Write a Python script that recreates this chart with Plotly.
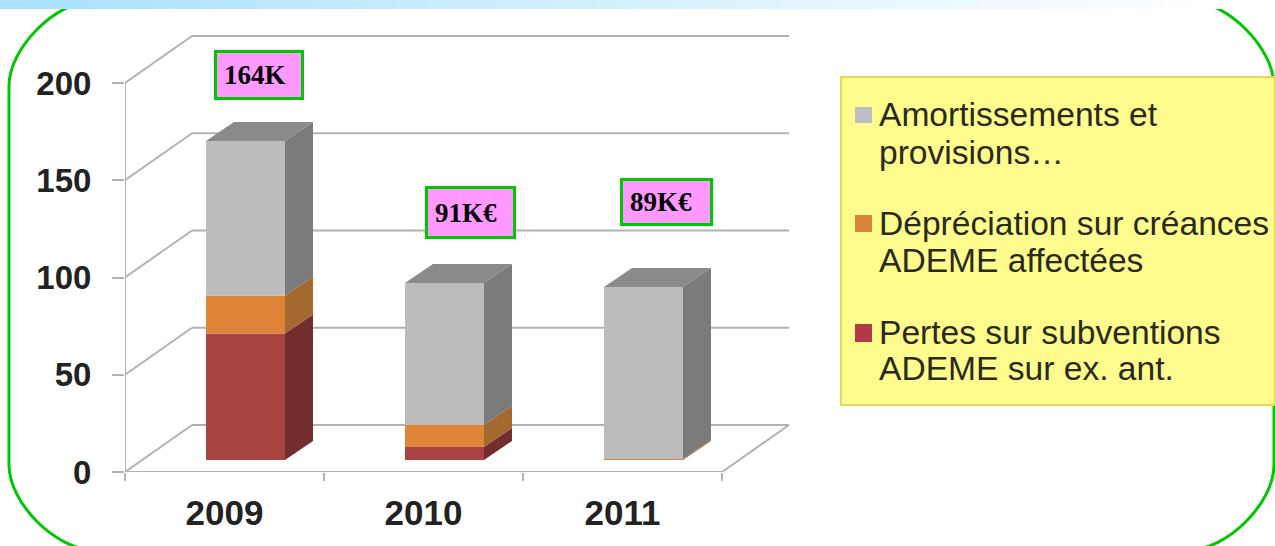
import plotly.graph_objects as go

# ---- data -------------------------------------------------------------
years = ["2009", "2010", "2011"]
pertes = [65, 6.7, 0]
depreciation = [19.5, 11.3, 0.5]
amortissements = [79.5, 73, 88.5]
y_ticks = [0, 50, 100, 150, 200]
legend_lines = [
    ["Amortissements et", "provisions…"],
    ["Dépréciation sur créances", "ADEME affectées"],
    ["Pertes sur subventions", "ADEME sur ex. ant."],
]
series_names = ["Amortissements et provisions…",
                "Dépréciation sur créances ADEME affectées",
                "Pertes sur subventions ADEME sur ex. ant."]
callouts = ["164K", "91K€", "89K€"]

# ---- geometry / style -------------------------------------------------
W, H = 1275, 546
PX_X, PX_Y = 199.0, 1.945            # pixels per category / per value unit
cats = list(range(len(years)))
wall_dx, wall_dy = 67 / PX_X, 47 / PX_Y      # depth of the 3-D box
bar_off, bar_base = 21 / PX_X, 12 / PX_Y     # where bars stand on the floor
bar_w = 79 / PX_X
bar_dx, bar_dy = 28 / PX_X, 19 / PX_Y        # depth of a bar
GRID = "#b2b2b2"


def px(x):
    return x / W


def py(y):
    return 1 - y / H


fig = go.Figure()

# front faces + side faces + tops
faces = [
    (series_names[2], pertes, "#A84541", "#732D2C", "#B23A48"),
    (series_names[1], depreciation, "#DF853A", "#A5682E", "#D8843A"),
    (series_names[0], amortissements, "#BCBCBC", "#7B7B7B", "#BDBDC5"),
]
bottom = [bar_base] * 3
for name, vals, front, side, _ in faces:
    fig.add_trace(go.Bar(x=[c + bar_off for c in cats], y=vals, base=bottom, width=bar_w,
                         marker=dict(color=front, line=dict(width=0)), name=name,
                         showlegend=False))
    sx, sy = [], []
    for c, v, b in zip(cats, vals, bottom):
        if v <= 0:
            continue
        xr = c + bar_off + bar_w / 2
        sx += [xr, xr + bar_dx, xr + bar_dx, xr, xr, None]
        sy += [b, b + bar_dy, b + v + bar_dy, b + v, b, None]
    fig.add_trace(go.Scatter(x=sx, y=sy, mode="lines", fill="toself", fillcolor=side,
                             line=dict(width=0, color=side), hoverinfo="skip", showlegend=False))
    bottom = [b + v for b, v in zip(bottom, vals)]

tx, ty = [], []
for c, t in zip(cats, bottom):
    xl, xr = c + bar_off - bar_w / 2, c + bar_off + bar_w / 2
    tx += [xl, xr, xr + bar_dx, xl + bar_dx, xl, None]
    ty += [t, t, t + bar_dy, t + bar_dy, t, None]
fig.add_trace(go.Scatter(x=tx, y=ty, mode="lines", fill="toself", fillcolor="#8A8A8A",
                         line=dict(width=0, color="#8A8A8A"), hoverinfo="skip", showlegend=False))

shapes = []

# page frame
K = 85 * 0.4477
L, R, T, B, RAD = 9, 1274, 1, 550, 85
frame = (
    f"M {px(L)},{py(T+RAD)} C {px(L)},{py(T+RAD-K*1)} {px(L+RAD-K)},{py(T)} {px(L+RAD)},{py(T)} "
    f"L {px(R-RAD)},{py(T)} C {px(R-RAD+K)},{py(T)} {px(R)},{py(T+RAD-K)} {px(R)},{py(T+RAD)} "
    f"L {px(R)},{py(B-RAD)} C {px(R)},{py(B-RAD+K)} {px(R-RAD+K)},{py(B)} {px(R-RAD)},{py(B)} "
    f"L {px(L+RAD)},{py(B)} C {px(L+RAD-K)},{py(B)} {px(L)},{py(B-RAD+K)} {px(L)},{py(B-RAD)} Z"
)
shapes.append(dict(type="path", xref="paper", yref="paper", path=frame,
                   line=dict(color="#00C800", width=3), layer="below"))

# top banner gradient, laid over the frame
STRIPS = 80
for i in range(STRIPS):
    f = i / (STRIPS - 1)
    rgb = [round(a + (255 - a) * f) for a in (0xA9, 0xE1, 0xFF)]
    shapes.append(dict(type="rect", xref="paper", yref="paper",
                       x0=px(i * 1225 / STRIPS), x1=px((i + 1) * 1225 / STRIPS + 1),
                       y0=py(9), y1=1, fillcolor=f"rgb({rgb[0]},{rgb[1]},{rgb[2]})",
                       line=dict(width=0), layer="below"))
shapes.append(dict(type="rect", xref="paper", yref="paper", x0=px(1225), x1=1, y0=py(9), y1=1,
                   fillcolor="white", line=dict(width=0), layer="below"))

# 3-D box: gridlines, axis lines, floor
x_left, x_right = cats[0] - 0.5, cats[-1] + 0.5
line_style = dict(color=GRID, width=2)
for v in y_ticks:
    shapes.append(dict(type="line", xref="x", yref="y", x0=x_left, y0=v,
                       x1=x_left + wall_dx, y1=v + wall_dy, line=line_style, layer="below"))
    shapes.append(dict(type="line", xref="x", yref="y", x0=x_left + wall_dx, y0=v + wall_dy,
                       x1=x_right + wall_dx, y1=v + wall_dy, line=line_style, layer="below"))
shapes.append(dict(type="line", xref="x", yref="y", x0=x_left, y0=0, x1=x_left, y1=y_ticks[-1],
                   line=line_style, layer="below"))
shapes.append(dict(type="line", xref="x", yref="y", x0=x_left, y0=0, x1=x_right, y1=0,
                   line=line_style, layer="below"))
shapes.append(dict(type="line", xref="x", yref="y", x0=x_right, y0=0, x1=x_right + wall_dx,
                   y1=wall_dy, line=line_style, layer="below"))

# legend panel
shapes.append(dict(type="rect", xref="paper", yref="paper", x0=px(841), x1=px(1275),
                   y0=py(405), y1=py(77), fillcolor="#FFFB8C",
                   line=dict(color="#E6D65A", width=2), layer="below"))
swatches = [(107, 123), (215, 232), (324, 342)]
swatch_cols = [faces[2][4], faces[1][4], faces[0][4]]
for (s0, s1), col in zip(swatches, swatch_cols):
    shapes.append(dict(type="rect", xref="paper", yref="paper", x0=px(855), x1=px(872),
                       y0=py(s1), y1=py(s0), fillcolor=col, line=dict(width=0)))

annotations = []
line_y = [[114, 152], [223, 260], [332, 368]]
for lines, ys in zip(legend_lines, line_y):
    for text, yy in zip(lines, ys):
        annotations.append(dict(xref="paper", yref="paper", x=px(877), y=py(yy), text=text,
                                showarrow=False, xanchor="left", yanchor="middle",
                                font=dict(family="Liberation Sans", size=33.6, color="#2a2a1a")))

# callout boxes
boxes = [(214, 50, 90, 50), (425, 186, 91, 53), (620, 178, 93, 48)]
for text, (bx, by, bw, bh) in zip(callouts, boxes):
    annotations.append(dict(xref="paper", yref="paper", x=px(bx), y=py(by), text=f"<b>{text}</b>",
                            showarrow=False, xanchor="left", yanchor="top", align="left",
                            width=bw - 20, height=bh - 20, borderpad=7, borderwidth=3,
                            bgcolor="#FF99FF", bordercolor="#00C800",
                            font=dict(family="Liberation Serif", size=27, color="black")))

fig.update_layout(
    width=W, height=H, margin=dict(l=0, r=0, t=0, b=0, autoexpand=False),
    paper_bgcolor="white", plot_bgcolor="rgba(0,0,0,0)", barmode="overlay", showlegend=False,
    shapes=shapes, annotations=annotations,
    xaxis=dict(domain=[px(125), px(800)], range=[-0.5, -0.5 + 675 / PX_X],
               tickmode="array", tickvals=cats, ticktext=years, ticks="", showgrid=False,
               zeroline=False, showline=False, ticklabelstandoff=17,
               tickfont=dict(family="Liberation Sans", size=35, color="#222222", weight="bold"),
               minor=dict(tickmode="array", tickvals=[c - 0.5 for c in cats] + [x_right],
                          ticks="outside", ticklen=8, tickwidth=2, tickcolor=GRID, showgrid=False)),
    yaxis=dict(domain=[py(472), 1], range=[0, 472 / PX_Y], tickmode="array", tickvals=y_ticks,
               ticks="outside", ticklen=12, tickwidth=2, tickcolor=GRID, showgrid=False,
               zeroline=False, showline=False, ticklabelstandoff=14,
               tickfont=dict(family="Liberation Sans", size=33, color="#222222", weight="bold")),
)

fig.write_html("out.html", config=dict(displayModeBar=False),
               post_script="document.body.style.margin='0';document.body.style.overflow='hidden';")
